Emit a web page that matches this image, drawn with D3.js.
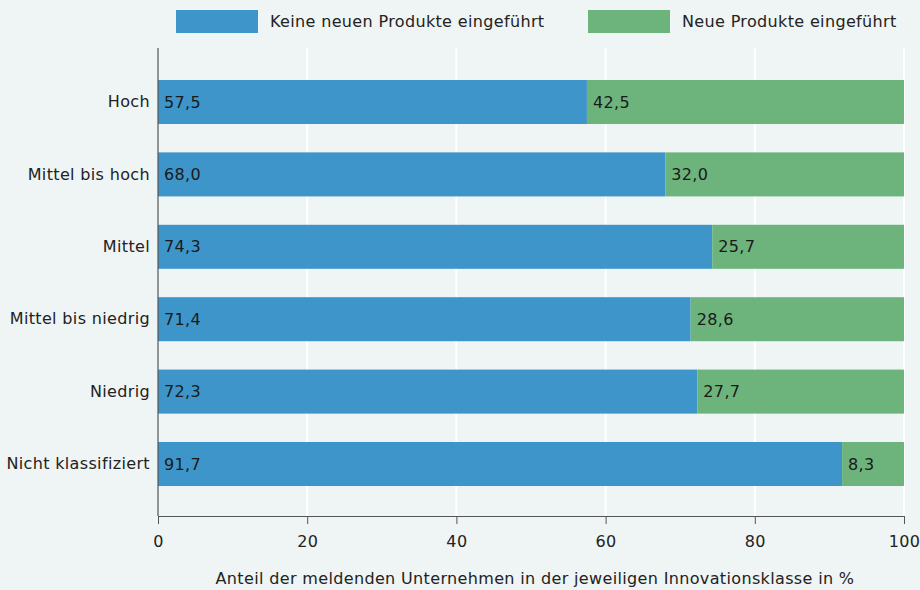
<!DOCTYPE html>
<html>
<head>
<meta charset="utf-8">
<script src="https://cdn.jsdelivr.net/npm/d3@7"></script>
<style>
  body { margin: 0; background: #eff4f4; }
  svg { display: block; font-family: "DejaVu Sans", sans-serif; letter-spacing: 0.35px; }
</style>
</head>
<body>
<svg id="chart" width="920" height="590"></svg>
<script>
var categories = ["Hoch", "Mittel bis hoch", "Mittel", "Mittel bis niedrig", "Niedrig", "Nicht klassifiziert"];
var keineNeuen = [57.5, 68.0, 74.3, 71.4, 72.3, 91.7];
var neue = [42.5, 32.0, 25.7, 28.6, 27.7, 8.3];
var seriesNames = ["Keine neuen Produkte eingeführt", "Neue Produkte eingeführt"];
var xTicks = [0, 20, 40, 60, 80, 100];
var xTitle = "Anteil der meldenden Unternehmen in der jeweiligen Innovationsklasse in %";

var colors = ["#3e95c9", "#6cb47c"];
var fs = 16;
var fmt = function(v) { return v.toFixed(1).replace(".", ","); };

var svg = d3.select("#chart");
svg.append("rect").attr("width", 920).attr("height", 590).attr("fill", "#eff4f4");

var x = d3.scaleLinear().domain([0, 100]).range([158, 904]);
var y = d3.scaleBand()
  .domain(categories)
  .range([49, 517])
  .paddingInner(0.392)
  .paddingOuter(0.428);

// grid
svg.append("g")
  .selectAll("line")
  .data(xTicks.slice(1))
  .enter().append("line")
  .attr("x1", function(d) { return x(d); })
  .attr("x2", function(d) { return x(d); })
  .attr("y1", 48)
  .attr("y2", 516)
  .attr("stroke", "#ffffff")
  .attr("stroke-width", 2);

var stackData = categories.map(function(c, i) {
  return { cat: c, a: keineNeuen[i], b: neue[i] };
});
var stacked = d3.stack().keys(["a", "b"])(stackData);

var layers = svg.append("g")
  .selectAll("g")
  .data(stacked)
  .enter().append("g")
  .attr("fill", function(d, i) { return colors[i]; });

layers.selectAll("rect")
  .data(function(d) { return d; })
  .enter().append("rect")
  .attr("x", function(d) { return x(d[0]); })
  .attr("width", function(d) { return x(d[1]) - x(d[0]); })
  .attr("y", function(d) { return y(d.data.cat); })
  .attr("height", y.bandwidth());

layers.selectAll("text")
  .data(function(d) { return d.map(function(p) { return { p: p, v: p[1] - p[0] }; }); })
  .enter().append("text")
  .attr("x", function(d) { return x(d.p[0]) + 6; })
  .attr("y", function(d) { return y(d.p.data.cat) + y.bandwidth() / 2; })
  .attr("dy", "0.35em")
  .attr("fill", "#1a1a1a")
  .attr("font-size", fs)
  .text(function(d) { return fmt(d.v); });

// y axis
var yAxis = svg.append("g")
  .attr("transform", "translate(158,0)")
  .call(d3.axisLeft(y).tickSize(0).tickPadding(8));
yAxis.select(".domain").remove();
yAxis.selectAll("text").attr("font-size", fs).attr("fill", "#222").attr("font-family", "DejaVu Sans, sans-serif");

svg.append("line")
  .attr("x1", 158).attr("x2", 158)
  .attr("y1", 48).attr("y2", 516)
  .attr("stroke", "#555").attr("stroke-width", 1.2);

// x axis
var xAxis = svg.append("g")
  .attr("transform", "translate(0,516)")
  .call(d3.axisBottom(x).tickValues(xTicks).tickSize(8).tickPadding(12).tickSizeOuter(0));
xAxis.select(".domain").attr("stroke", "#555").attr("stroke-width", 1.2);
xAxis.selectAll(".tick line").attr("stroke", "#555");
xAxis.selectAll("text").attr("font-size", fs).attr("fill", "#222").attr("font-family", "DejaVu Sans, sans-serif");

svg.append("text")
  .attr("x", x(50) + 4)
  .attr("y", 584)
  .attr("text-anchor", "middle")
  .attr("font-size", fs)
  .attr("fill", "#222")
  .text(xTitle);

// legend
var legendX = [176, 588];
var legend = svg.append("g")
  .selectAll("g")
  .data(seriesNames)
  .enter().append("g")
  .attr("transform", function(d, i) { return "translate(" + legendX[i] + ",10)"; });
legend.append("rect")
  .attr("width", 82).attr("height", 23)
  .attr("fill", function(d, i) { return colors[i]; });
legend.append("text")
  .attr("x", 94).attr("y", 11.5).attr("dy", "0.35em")
  .attr("font-size", fs).attr("fill", "#222")
  .text(function(d) { return d; });
</script>
</body>
</html>
